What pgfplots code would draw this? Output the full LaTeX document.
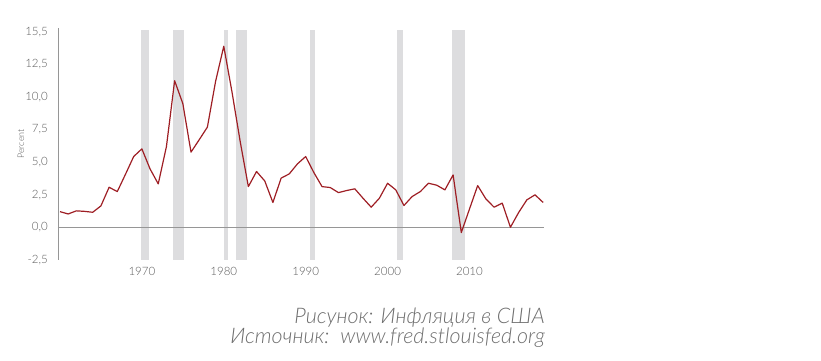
\documentclass[border=0pt]{standalone}
\usepackage{fontspec}
\setmainfont{Lato}
\newfontfamily\lightfont{Lato}[UprightFont={* Light}, ItalicFont={* Light Italic}]
\usepackage{pgfplots}
\pgfplotsset{compat=1.18}
\definecolor{tickgray}{RGB}{90,90,90}
\definecolor{capgray}{RGB}{110,110,110}
\definecolor{barg}{RGB}{221,221,223}
\definecolor{axg}{RGB}{150,150,150}
\definecolor{infl}{RGB}{158,30,36}
\begin{document}
\begin{tikzpicture}
\path[use as bounding box] (0pt,0pt) rectangle (821pt,-360pt);
\begin{axis}[
  at={(58pt,-259.8pt)}, anchor=south west,
  scale only axis, width=485.6pt, height=231.8pt,
  xmin=1959.76, xmax=2019.05, ymin=-2.5, ymax=15.3,
  axis lines*=left,
  x axis line style={draw=none},
  y axis line style={draw=axg, line width=0.9pt},
  major tick length=0pt,
  xtick={1970,1980,1990,2000,2010},
  xticklabels={1970,1980,1990,2000,2010},
  ytick={-2.5,0,2.5,5,7.5,10,12.5,15},
  yticklabels={{-2,5},{0,0},{2,5},{5,0},{7,5},{10,0},{12,5},{15,5}},
  tick label style={font=\lightfont\fontsize{11.5}{12}\selectfont, text=tickgray, inner sep=0pt},
  yticklabel style={anchor=east, xshift=-10pt},
  xticklabel style={anchor=north, yshift=-7.5pt},
  clip=false,
]
% recession bars
\addplot[fill=barg, draw=none] coordinates {(1969.92,-2.5) (1970.83,-2.5) (1970.83,15.15) (1969.92,15.15)} -- cycle;
\addplot[fill=barg, draw=none] coordinates {(1973.83,-2.5) (1975.17,-2.5) (1975.17,15.15) (1973.83,15.15)} -- cycle;
\addplot[fill=barg, draw=none] coordinates {(1980.0,-2.5) (1980.5,-2.5) (1980.5,15.15) (1980.0,15.15)} -- cycle;
\addplot[fill=barg, draw=none] coordinates {(1981.5,-2.5) (1982.83,-2.5) (1982.83,15.15) (1981.5,15.15)} -- cycle;
\addplot[fill=barg, draw=none] coordinates {(1990.5,-2.5) (1991.17,-2.5) (1991.17,15.15) (1990.5,15.15)} -- cycle;
\addplot[fill=barg, draw=none] coordinates {(2001.17,-2.5) (2001.83,-2.5) (2001.83,15.15) (2001.17,15.15)} -- cycle;
\addplot[fill=barg, draw=none] coordinates {(2007.92,-2.5) (2009.5,-2.5) (2009.5,15.15) (2007.92,15.15)} -- cycle;
% zero line
\addplot[draw=axg, line width=0.9pt] coordinates {(1959.76,0) (2019.05,0)};
% inflation
\addplot[draw=infl, line width=1.2pt, line join=round] coordinates {
(1960,1.20) (1961,1.02) (1962,1.26) (1963,1.22) (1964,1.15) (1965,1.64)
(1966,3.07) (1967,2.74) (1968,4.07) (1969,5.43) (1970,6.02) (1971,4.48)
(1972,3.33) (1973,6.20) (1974,11.25) (1975,9.50) (1976,5.77) (1977,6.72)
(1978,7.69) (1979,11.20) (1980,13.90) (1981,10.40) (1982,6.60) (1983,3.12)
(1984,4.28) (1985,3.56) (1986,1.90) (1987,3.77) (1988,4.10) (1989,4.87)
(1990,5.43) (1991,4.20) (1992,3.12) (1993,3.05) (1994,2.66) (1995,2.82)
(1996,2.95) (1997,2.23) (1998,1.54) (1999,2.23) (2000,3.38) (2001,2.87)
(2002,1.67) (2003,2.36) (2004,2.74) (2005,3.38) (2006,3.23) (2007,2.87)
(2008,4.02) (2009,-0.41) (2010,1.40) (2011,3.20) (2012,2.18) (2013,1.54)
(2014,1.85) (2015,0.00) (2016,1.13) (2017,2.10) (2018,2.49) (2019,1.90)
};
\end{axis}
\node[rotate=90, text=tickgray, font=\lightfont\fontsize{9}{10}\selectfont, inner sep=0pt] at (21pt,-144pt) {Percent};
\node[anchor=base east, text=capgray, font=\lightfont\fontsize{21.5}{22}\selectfont\itshape, inner sep=0pt] at (545pt,-323pt) {Рисунок: Инфляция в США};
\node[anchor=base east, text=capgray, font=\lightfont\fontsize{21.5}{22}\selectfont\itshape, inner sep=0pt] at (545pt,-343.3pt) {Источник:\ \ www.fred.stlouisfed.org};
\end{tikzpicture}
\end{document}
